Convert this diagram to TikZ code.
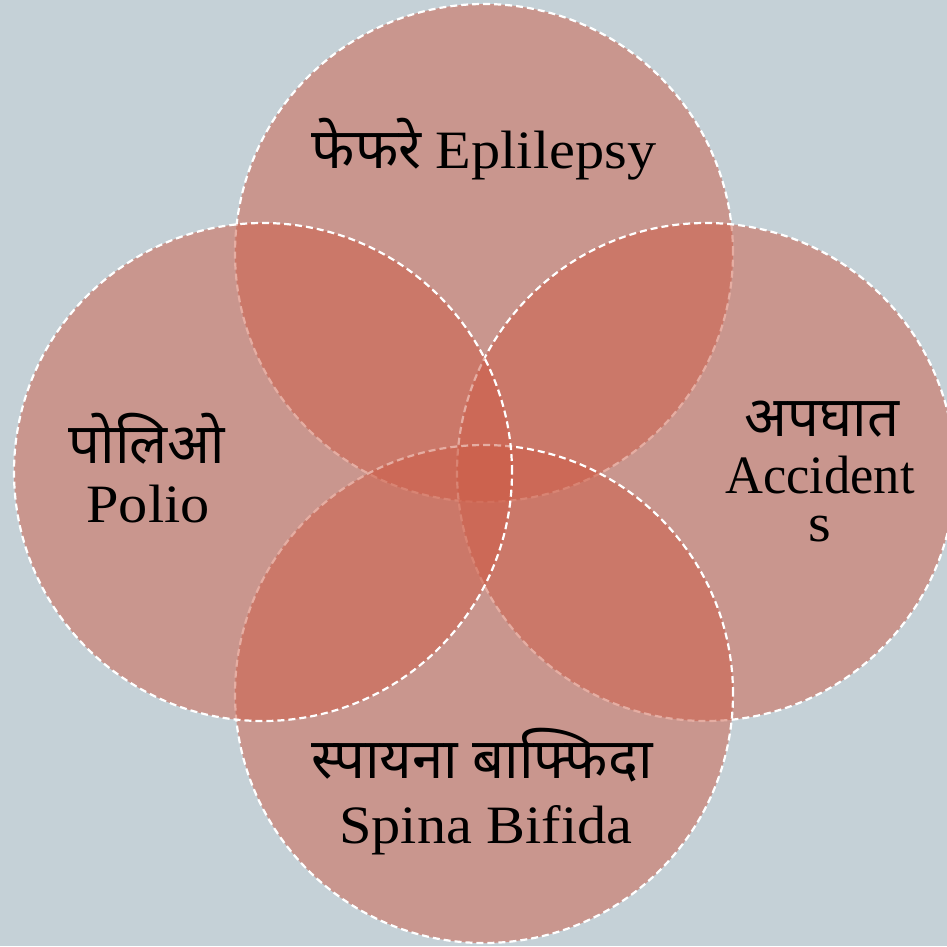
\documentclass[tikz,border=0pt]{standalone}
\usepackage{fontspec}
\setmainfont[FakeStretch=1.08]{Liberation Serif}
\newfontfamily\deva[Script=Devanagari,Scale=1.04]{Noto Sans}
\definecolor{bgc}{RGB}{197,209,215}
\definecolor{circc}{RGB}{205,92,70}
\tikzset{
  venn/.style={circle, minimum size=498pt, inner sep=0pt, fill=circc, fill opacity=0.5,
    draw=white, line width=2.2pt, dash pattern=on 7pt off 4pt},
  lbl/.style={text=black, inner sep=0pt, font=\fontsize{54}{58}\selectfont, anchor=base},
}
\begin{document}
\begin{tikzpicture}[x=1pt,y=-1pt]
\fill[bgc] (0,0) rectangle (947,946);
\useasboundingbox (0,0) rectangle (947,946);
\begin{scope}
\clip (0,0) rectangle (947,946);
\node[venn] (ctop) at (484,253) {};
\node[venn] (cright) at (706,472) {};
\node[venn] (cbottom) at (484,694) {};
\node[venn] (cleft) at (263,472) {};
\end{scope}
\node[lbl] (ttop) at (484,168) {{\deva फेफरे} Eplilepsy};
\node[lbl] (tleft1) at (147,463) {\deva पोलिओ};
\node[lbl] (tleft2) at (148,522) {Polio};
\node[lbl] (tright1) at (822,436) {\deva अपघात};
\node[lbl] (tright2) at (820,493) {\scalebox{0.9}[1]{Accident}};
\node[lbl] (tright3) at (820,541) {s};
\node[lbl] (tbot1) at (482,778) {\deva स्पायना बाफ्फिदा};
\node[lbl] (tbot2) at (486,843) {Spina Bifida};
\end{tikzpicture}
\end{document}
